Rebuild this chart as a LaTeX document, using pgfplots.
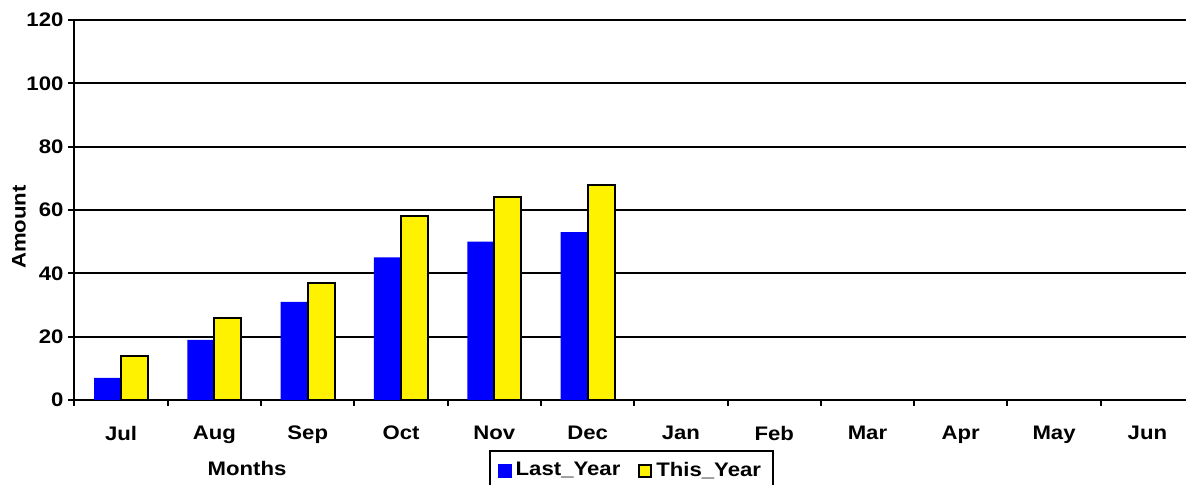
\documentclass[border=0pt]{standalone}
\usepackage{fontspec}
\setmainfont{Liberation Sans}[FakeStretch=1.13]
\usepackage{pgfplots}
\pgfplotsset{compat=1.18}
\newcommand{\cf}{\bfseries\fontsize{9.8}{11.5}\selectfont}
\begin{document}
\begin{tikzpicture}
\begin{axis}[
  at={(0,0)}, anchor=south west, scale only axis,
  width=559.75pt, height=190pt,
  xmin=-0.5, xmax=11.5, ymin=0, ymax=120,
  axis x line=bottom, axis y line=left,
  axis line style={-, line width=1pt, black},
  ybar=0pt, bar width=0.29,
  ytick={0,20,...,120},
  xtick={-0.5,0.5,...,11.5},
  xticklabels={Jul,Aug,Sep,Oct,Nov,Dec,Jan,Feb,Mar,Apr,May,Jun},
  x tick label as interval,
  tick align=outside, major tick length=3pt,
  tick style={black, line width=1pt},
  ymajorgrids, major grid style={black, line width=1pt},
  /pgf/number format/assume math mode=true,
  tick label style={font=\cf},
  xticklabel style={yshift=-6.5pt},
  yticklabel style={xshift=1pt},
  label style={font=\cf},
  ylabel={Amount}, xlabel={Months},
  ylabel style={at={(axis description cs:-0.0496,0.455)}, anchor=center},
  xlabel style={at={(axis description cs:0.1541,-0.179)}, anchor=center},
  legend style={at={(axis description cs:0.370,-0.1316)}, anchor=north west,
    draw=black, line width=1pt, font=\cf, legend columns=2,
    inner xsep=4pt, inner ysep=3.5pt,
    /tikz/every even column/.append style={column sep=7pt}},
]
\addplot[fill=blue, draw=none,
  legend image code/.code={\fill[blue] (0pt,-3.5pt) rectangle (7pt,3.5pt);}]
  coordinates {(0,7) (1,19) (2,31) (3,45) (4,50) (5,53)};
\addplot[fill=yellow, draw=black, line width=1pt,
  legend image code/.code={\draw[fill=yellow, draw=black, line width=1pt] (0.5pt,-3pt) rectangle (6.5pt,3pt);}]
  coordinates {(0,14) (1,26) (2,37) (3,58) (4,64) (5,68)};
\legend{Last\_Year, This\_Year}
\end{axis}
\pgfresetboundingbox
\path[use as bounding box] (-37.25pt,-42.5pt) rectangle (555.75pt,200pt);
\end{tikzpicture}
\end{document}
